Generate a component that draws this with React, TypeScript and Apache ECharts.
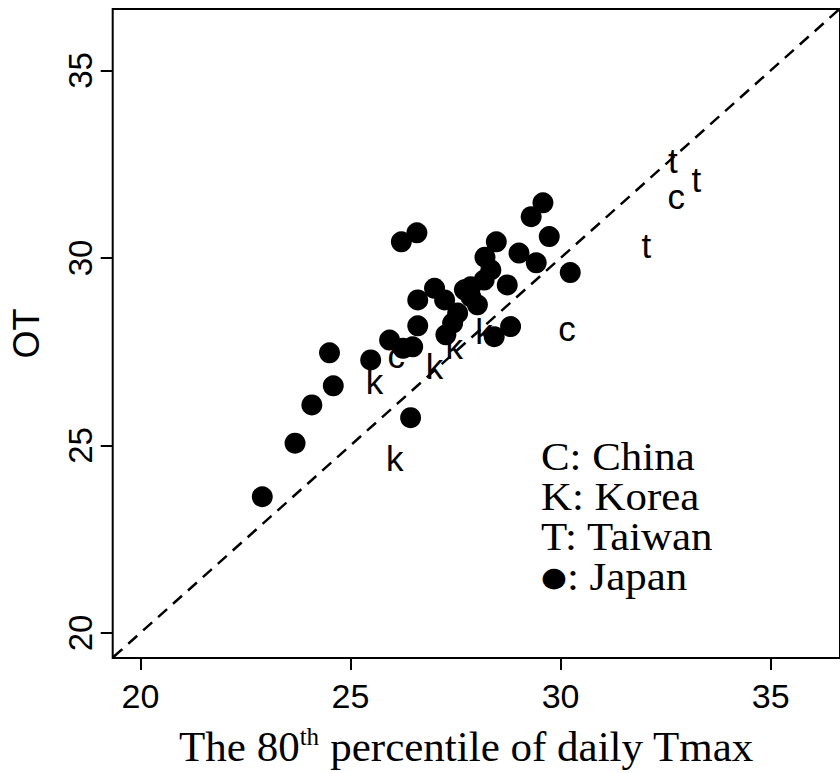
import React, { useEffect, useRef } from "react";
import * as echarts from "echarts";

// Japan (filled dots)
const japanX = [22.9, 23.68, 24.08, 24.59, 24.5, 25.48, 25.93, 26.25, 26.48, 26.43, 26.6, 26.6, 27.0, 26.21, 26.58, 27.27, 27.43, 27.55, 27.71, 27.86, 28.02, 27.86, 28.18, 28.34, 28.2, 28.47, 28.73, 29.01, 29.42, 29.3, 29.58, 29.73, 30.23, 28.81, 28.42, 27.24];
const japanY = [23.63, 25.06, 26.08, 26.59, 27.47, 27.28, 27.81, 27.59, 27.63, 25.74, 28.19, 28.88, 29.19, 30.43, 30.67, 27.95, 28.26, 28.53, 29.15, 28.97, 28.75, 29.23, 29.41, 29.68, 30.02, 30.43, 29.28, 30.13, 29.87, 31.1, 31.47, 30.57, 29.61, 28.17, 27.9, 28.88];
// Korea ("k")
const koreaX = [25.57, 27.0, 27.47, 28.18, 26.05];
const koreaY = [26.7, 27.1, 27.63, 28.03, 24.66];
// China ("c")
const chinaX = [26.09, 30.15, 32.75];
const chinaY = [27.41, 28.11, 31.63];
// Taiwan ("t")
const taiwanX = [32.67, 33.23, 32.04];
const taiwanY = [32.59, 32.08, 30.33];

const xTicks = [20, 25, 30, 35];
const yTicks = [20, 25, 30, 35];
const xRange = [19.34, 36.65];
const yRange = [19.33, 36.64];
const refLine = [19.0, 37.0];
const legendLines = ["C: China", "K: Korea", "T: Taiwan", "{d|\u25CF}: Japan"];

const zip = (xs: number[], ys: number[]) => xs.map((x, i) => [x, ys[i]]);

const letterSeries = (name: string, xs: number[], ys: number[], letter: string) => ({
  name,
  type: "scatter",
  data: zip(xs, ys),
  symbolSize: 2,
  itemStyle: { color: "rgba(0,0,0,0)", opacity: 0 },
  z: 5,
  label: {
    show: true,
    position: "inside",
    formatter: letter,
    fontSize: 35,
    fontFamily: "Liberation Sans",
    color: "#000",
    opacity: 1,
    textBorderWidth: 0,
    textBorderColor: "transparent",
  },
  emphasis: { disabled: true },
});

export default function App() {
  const ref = useRef<HTMLDivElement>(null);
  useEffect(() => {
    const chart = echarts.init(ref.current!, null, { renderer: "svg" });
    chart.setOption({
      animation: false,
      backgroundColor: "#fff",
      grid: {
        left: 112.7,
        top: 9,
        width: 732,
        height: 649,
        show: true,
        borderColor: "#000",
        borderWidth: 2,
      },
      xAxis: {
        type: "value",
        min: xRange[0],
        max: xRange[1],
        splitLine: { show: false },
        axisLine: { show: false },
        axisTick: {
          show: true,
          customValues: xTicks,
          length: 12,
          lineStyle: { color: "#000", width: 2 },
        },
        axisLabel: {
          customValues: xTicks,
          fontSize: 34,
          fontFamily: "Liberation Sans",
          color: "#000",
          margin: 21,
        },
        name: "{a|The 80}{s|th}{a| percentile of daily Tmax}",
        nameLocation: "middle",
        nameGap: 66,
        nameTextStyle: {
          padding: [0, 20, 0, 0],
          rich: {
            a: { fontSize: 43, fontFamily: "Liberation Serif", color: "#000", lineHeight: 45 },
            s: { fontSize: 25, fontFamily: "Liberation Serif", color: "#000", lineHeight: 25, verticalAlign: "top" },
          },
        },
      },
      yAxis: {
        type: "value",
        min: yRange[0],
        max: yRange[1],
        splitLine: { show: false },
        axisLine: { show: false },
        axisTick: {
          show: true,
          customValues: yTicks,
          length: 12,
          lineStyle: { color: "#000", width: 2 },
        },
        axisLabel: {
          customValues: yTicks,
          rotate: 90,
          fontSize: 33,
          fontFamily: "Liberation Sans",
          color: "#000",
          margin: 16,
        },
        name: "OT",
        nameLocation: "middle",
        nameRotate: 90,
        nameGap: 68,
        nameTextStyle: { fontSize: 36, fontFamily: "Liberation Sans", color: "#000" },
      },
      series: [
        {
          name: "1:1",
          type: "line",
          data: zip(refLine, refLine),
          symbol: "none",
          silent: true,
          clip: true,
          lineStyle: { color: "#000", width: 2.5, type: [12, 8] },
          z: 1,
        },
        {
          name: "Japan",
          type: "scatter",
          data: zip(japanX, japanY),
          symbolSize: 21,
          itemStyle: { color: "#000", opacity: 1 },
          emphasis: { disabled: true },
          z: 3,
        },
        letterSeries("Korea", koreaX, koreaY, "k"),
        letterSeries("China", chinaX, chinaY, "c"),
        letterSeries("Taiwan", taiwanX, taiwanY, "t"),
      ],
      graphic: legendLines.map((t, i) => ({
        type: "text",
        x: 541,
        y: 457 + i * 40,
        scaleX: 1.1,
        style: {
          text: t,
          fontSize: 39,
          fontFamily: "Liberation Serif",
          fill: "#000",
          verticalAlign: "middle",
          align: "left",
          rich: {
            d: { fontSize: 27, fontFamily: "DejaVu Sans", fill: "#000" },
          },
        },
      })),
    });
    return () => chart.dispose();
  }, []);
  return (
    <div
      ref={ref}
      style={{ position: "absolute", left: 0, top: 0, width: 840, height: 773 }}
    />
  );
}
